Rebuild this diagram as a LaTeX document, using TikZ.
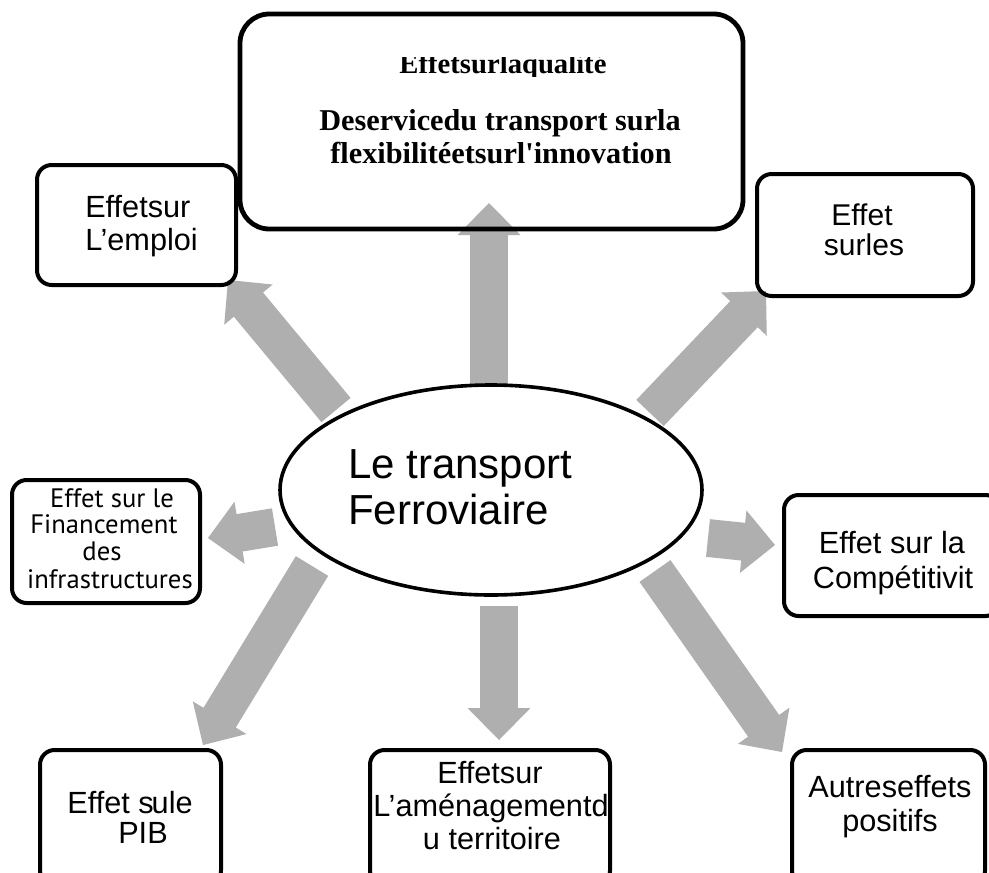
\documentclass[tikz,border=0pt]{standalone}
\usepackage{fontspec}
\setmainfont{Liberation Sans}
\newfontfamily\serifface{Liberation Serif}
\newfontfamily\humanist{PT Sans}
\usetikzlibrary{calc,shapes.geometric}
\definecolor{arrowgray}{RGB}{175,175,175}
\newcommand\blockarrow[2]{%
  \path ($(#2)!24pt!(#1)$) coordinate (hb);
  \fill[arrowgray] ($(#1)!14.2pt!90:(#2)$) -- ($(hb)!14.2pt!90:(#2)$) -- ($(hb)!23.6pt!90:(#2)$) -- (#2)
    -- ($(hb)!23.6pt!-90:(#2)$) -- ($(hb)!14.2pt!-90:(#2)$) -- ($(#1)!14.2pt!-90:(#2)$) -- cycle;}
\tikzset{
  box/.style={draw=black, line width=3pt, rounded corners=11pt},
  bigbox/.style={draw=black, line width=3.6pt, rounded corners=22pt},
  txt/.style={inner sep=0pt, anchor=base},
  txtl/.style={inner sep=0pt, anchor=base west},
  arial/.style={font=\fontsize{23}{26}\selectfont},
}
\begin{document}
\begin{tikzpicture}[x=0.75pt,y=-0.75pt]
\clip (0,0) rectangle (989,872);
\fill[white] (0,0) rectangle (989,872);
% arrow end points
\coordinate (t1) at (489,385); \coordinate (p1) at (489,203);
\coordinate (t2) at (336,410); \coordinate (p2) at (228,280);
\coordinate (t3) at (650,413); \coordinate (p3) at (766,291);
\coordinate (t4) at (275,527); \coordinate (p4) at (208,538);
\coordinate (t5) at (708,538); \coordinate (p5) at (775,545);
\coordinate (t6) at (312,566); \coordinate (p6) at (203,745);
\coordinate (t7) at (499,606); \coordinate (p7) at (499,740);
\coordinate (t8) at (655,571); \coordinate (p8) at (782,752);
\blockarrow{t1}{p1}
\blockarrow{t2}{p2}
\blockarrow{t3}{p3}
\blockarrow{t4}{p4}
\blockarrow{t5}{p5}
\blockarrow{t6}{p6}
\blockarrow{t7}{p7}
\blockarrow{t8}{p8}
% boxes
\draw[bigbox] (240,14) rectangle (743,229);
\draw[box] (37,165) rectangle (236,285);
\draw[box] (757,174) rectangle (973,296);
\draw[box] (12,480) rectangle (200,603);
\draw[box] (784,495) rectangle (1000,616);
\draw[box] (40,750) rectangle (221,885);
\draw[box] (370,750) rectangle (610,885);
\draw[box] (792,750) rectangle (985,885);
% ellipse
\node[ellipse, draw=black, line width=2.7pt, fill=white, inner sep=0pt,
      minimum width=316.5pt, minimum height=157.5pt] (core) at (491,490) {};
% texts
\begin{scope}
\clip (300,57) rectangle (700,76);
\node[txt] (q1) at (503,73) {\serifface\bfseries\fontsize{21.5}{24}\selectfont Effetsurlaqualité};
\end{scope}
\node[txt] (q2) at (500,130) {\serifface\bfseries\fontsize{22.7}{25}\selectfont Deservicedu transport surla};
\node[txt] (q3) at (501,163) {\serifface\bfseries\fontsize{22.7}{25}\selectfont flexibilitéetsurl'innovation};
\node[txtl, arial] (e1) at (85,217) {Effetsur};
\node[txtl, arial] (e2) at (85,250) {L’emploi};
\node[txt, font=\fontsize{22.5}{25}\selectfont] (r1) at (862,225) {Effet};
\node[txt, font=\fontsize{22.5}{25}\selectfont] (r2) at (864,255) {surles};
\node[txt, font=\humanist\fontsize{20}{22}\selectfont] (f1) at (112,507) {Effet sur le};
\node[txt, font=\humanist\fontsize{20}{22}\selectfont] (f2) at (104,533) {Financement};
\node[txt, font=\humanist\fontsize{20}{22}\selectfont] (f3) at (102,560) {des};
\node[txt, font=\humanist\fontsize{20}{22}\selectfont] (f4) at (110,588) {infrastructures};
\node[txt, arial] (c1) at (892,553) {Effet sur la};
\node[txt, arial] (c2) at (893,588) {Compétitivit};
\node[txt, arial] (b1) at (130,813) {Effet s\kern-1.5pt ule};
\node[txt, arial] (b2) at (143,843) {PIB};
\node[txt, arial] (m1) at (490,783) {Effetsur};
\node[txt, arial] (m2) at (491,816) {L’aménagementd};
\node[txt, arial] (m3) at (492,849) {u territoire};
\node[txt, arial] (a1) at (890,797) {Autreseffets};
\node[txt, arial] (a2) at (890,831) {positifs};
\node[txtl, font=\fontsize{31.5}{35}\selectfont] (core1) at (348,478) {Le transport};
\node[txtl, font=\fontsize{31.5}{35}\selectfont] (core2) at (348,524) {Ferroviaire};
\end{tikzpicture}
\end{document}
